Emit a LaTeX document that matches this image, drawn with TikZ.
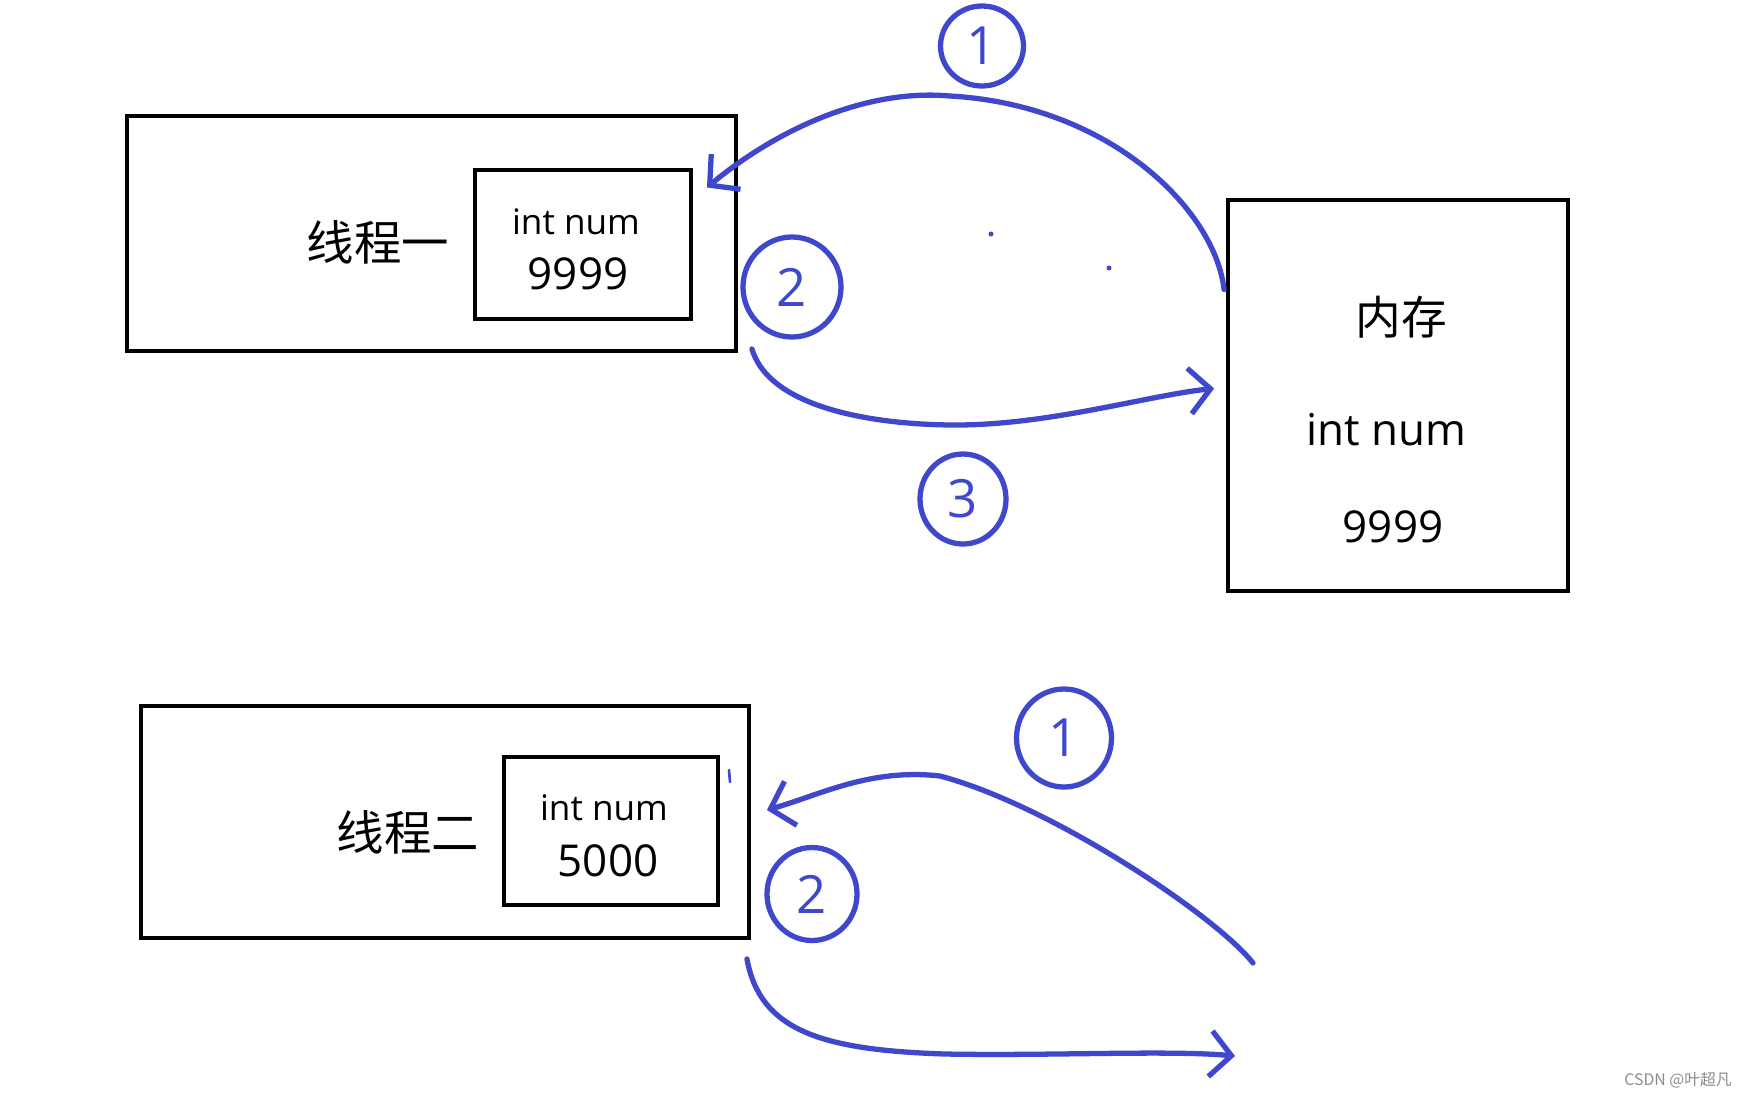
\documentclass[tikz,border=0pt]{standalone}
\usepackage{fontspec}
\setmainfont{Open Sans}
\newfontfamily\cjk{Noto Sans CJK SC}
\usetikzlibrary{shapes.geometric,arrows.meta}
\definecolor{inkblue}{RGB}{63,72,204}
\begin{document}
\begin{tikzpicture}[
  x=0.2mm, y=-0.2mm,
  box/.style={draw, line width=2.2pt, inner sep=0pt},
  lbl/.style={font=\cjk\fontsize{27}{32}\selectfont, inner sep=0pt},
  var/.style={font=\fontsize{20}{24}\selectfont, inner sep=0pt},
  val/.style={font=\fontsize{25}{30}\selectfont, inner sep=0pt},
  stroke/.style={inkblue, line width=3pt, line cap=round, line join=round},
  arr/.style={stroke, -{Straight Barb[length=12pt, width=26pt]}},
  num/.style={draw=inkblue, ellipse, line width=3pt, inner sep=0pt,
              text=inkblue, font=\fontsize{30}{36}\selectfont}
]
  \useasboundingbox (0,0) rectangle (1744,1098);
  \fill[white] (0,0) rectangle (1744,1098);
  %% --- Thread one ---
  \node[box, minimum width=121.8mm, minimum height=47mm] (t1) at (431.5,233.5) {};
  \node[box, minimum width=43.2mm, minimum height=29.8mm] (in1) at (583,244.5) {};
  \node[lbl] (t1lbl) at (378,242) {线程一};
  \node[var] (in1var) at (576,222) {int num};
  \node[val] (in1val) at (578,274) {9999};
  %% --- Memory ---
  \node[box, minimum width=68mm, minimum height=78.2mm] (mem) at (1398,395.5) {};
  \node[lbl, font=\cjk\fontsize{26}{32}\selectfont] (memlbl) at (1401,317) {内存};
  \node[val] (memvar) at (1386,430) {int num};
  \node[val] (memval) at (1393,527) {9999};
  %% --- Thread two ---
  \node[box, minimum width=121.6mm, minimum height=46.4mm] (t2) at (445,822) {};
  \node[box, minimum width=42.8mm, minimum height=29.6mm] (in2) at (611,831) {};
  \node[lbl] (t2lbl) at (408,832) {线程二};
  \node[var] (in2var) at (604,808) {int num};
  \node[val] (in2val) at (608,861) {5000};
  %% --- Step marks ---
  \node[num, minimum width=16.6mm, minimum height=16mm] (s1a) at (982,46) {1};
  \node[num, minimum width=19.6mm, minimum height=20mm] (s2a) at (792,287) {2};
  \node[num, minimum width=17.2mm, minimum height=18mm] (s3a) at (963,499) {3};
  \node[num, minimum width=19mm, minimum height=19.6mm] (s1b) at (1064,738) {1};
  \node[num, minimum width=18mm, minimum height=18.6mm] (s2b) at (812,894) {2};
  %% --- Read and write back ---
  \draw[arr] ([shift={(-2,-106)}]mem.west) .. controls (1215,210) and (1110,105) .. (950,96)
             .. controls (860,88) and (770,135) .. ([shift={(-31,-46)}]t1.east);
  \draw[arr] ([shift={(14,-4)}]t1.south east) .. controls (770,410) and (880,425) .. (956,425)
             .. controls (1050,425) and (1150,395) .. ([shift={(-12,-7)}]mem.west);
  \coordinate (far2a) at (1253,963);
  \coordinate (far2b) at (1235,1056);
  \draw[arr] (far2a) .. controls (1215,915) and (1050,805) .. (940,776)
             .. controls (870,768) and (820,795) .. ([shift={(16,-12)}]t2.east);
  \draw[arr] ([shift={(-4,19)}]t2.south east) .. controls (760,1030) and (820,1050) .. (945,1054)
             .. controls (1050,1056) and (1170,1050) .. (far2b);
  %% --- stray pen marks ---
  \fill[inkblue] (991,234) circle (2.5);
  \fill[inkblue] (1109,268) circle (2.5);
  \draw[stroke, line width=1.5pt] (729,770) -- (730,782);
  \node[anchor=east, font=\cjk\fontsize{9}{11}\selectfont, text=black!45] (mark) at (1738,1080) {CSDN @叶超凡};
\end{tikzpicture}
\end{document}
